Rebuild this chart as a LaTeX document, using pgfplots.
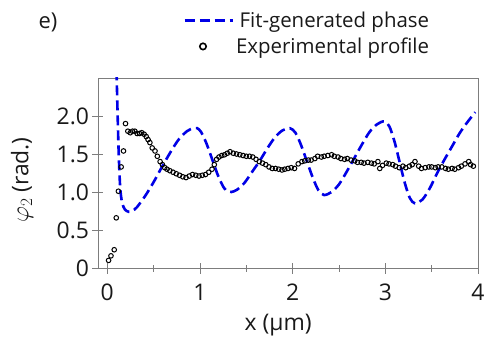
\documentclass[border=0pt]{standalone}
\usepackage{pgfplots}
\pgfplotsset{compat=1.18}
\usepackage{fontspec}
\setmainfont{Open Sans}
\definecolor{fitblue}{RGB}{0,0,230}
\definecolor{axgray}{RGB}{125,125,125}
\pgfplotsset{
  dashleg/.style={legend image code/.code={\draw[##1] (0cm,0cm) -- (1.7cm,0cm);}},
  markleg/.style={legend image code/.code={\draw[mark repeat=2,mark phase=2,##1, mark size=3.2bp, mark options={line width=1.6bp}] plot coordinates {(0cm,0cm) (0.65cm,0cm) (1.7cm,0cm)};}},
}
\begin{document}
\begin{tikzpicture}
\begin{axis}[
  scale only axis, width=380bp, height=190bp,
  xmin=-0.1, xmax=4, ymin=0, ymax=2.5,
  xtick={0,1,2,3,4}, minor xtick={0.5,1.5,2.5,3.5},
  ytick={0,0.5,1,1.5,2}, yticklabels={0,0.5,1.0,1.5,2.0},
  xtick pos=bottom, ytick pos=left,
  tick align=center,
  major tick length=11bp, minor tick length=7bp,
  every tick/.style={axgray, line width=0.8bp},
  axis line style={axgray, line width=0.8bp},
  /pgf/number format/assume math mode=true,
  tick label style={font=\fontsize{23}{26}\selectfont, text=black!90},
  xticklabel style={yshift=-7bp},
  xlabel={x (µm)}, ylabel={$\varphi_2$ (rad.)},
  label style={font=\fontsize{23}{26}\selectfont, text=black!90},
  xlabel style={at={(axis description cs:0.474,-0.3)}, anchor=center},
  ylabel style={at={(axis description cs:-0.2,0.463)}, anchor=center},
  legend style={at={(axis description cs:0.885,1.37)}, anchor=north east,
    draw=none, fill=none, font=\fontsize{20.5}{23}\selectfont, row sep=5bp,
    text=black!90},
  legend cell align=right,
]
\addplot[fitblue, line width=2.6bp, dash pattern=on 10bp off 5bp, smooth, dashleg]
coordinates {
(0.100,2.60) (0.112,2.0) (0.125,1.45) (0.14,1.05) (0.16,0.86) (0.19,0.77) (0.23,0.74) (0.27,0.75)
(0.32,0.80) (0.41,0.95) (0.50,1.13) (0.59,1.33) (0.68,1.52) (0.77,1.69) (0.86,1.80) (0.93,1.84) (0.97,1.84)
(1.012,1.79) (1.07,1.64) (1.135,1.42) (1.197,1.21) (1.258,1.056) (1.30,1.01) (1.34,1.0)
(1.40,1.03) (1.48,1.12) (1.56,1.26) (1.65,1.42) (1.73,1.58) (1.81,1.72) (1.89,1.81) (1.97,1.84)
(2.03,1.78) (2.09,1.62) (2.155,1.40) (2.22,1.18) (2.28,1.02) (2.34,0.96)
(2.42,1.00) (2.50,1.10) (2.58,1.26) (2.665,1.445) (2.75,1.63) (2.83,1.79) (2.91,1.89) (2.99,1.93)
(3.045,1.86) (3.10,1.66) (3.155,1.39) (3.21,1.12) (3.265,0.92) (3.32,0.85)
(3.40,0.90) (3.48,1.05) (3.56,1.25) (3.64,1.43) (3.72,1.60) (3.80,1.77) (3.88,1.91) (3.97,2.05)
};
\addlegendentry{Fit-generated phase}
\addplot[only marks, mark=o, mark size=2.3bp, black, mark options={line width=1bp}, markleg]
coordinates {
(0.014,0.10) (0.04,0.16) (0.075,0.24) (0.097,0.66) (0.12,1.01) (0.15,1.33) (0.175,1.54) (0.197,1.90)
(0.222,1.80) (0.248,1.78) (0.272,1.80) (0.298,1.80) (0.322,1.77) (0.348,1.77) (0.372,1.78) (0.398,1.76)
(0.42,1.73) (0.44,1.69) (0.46,1.65) (0.485,1.58) (0.515,1.54) (0.54,1.47) (0.57,1.40) (0.595,1.36)
(0.62,1.32) (0.645,1.30) (0.675,1.28) (0.71,1.26) (0.745,1.24) (0.78,1.22) (0.815,1.20) (0.85,1.19)
(0.885,1.21) (0.92,1.23) (0.955,1.22) (0.99,1.21) (1.025,1.22) (1.06,1.23) (1.095,1.26) (1.13,1.30)
(1.155,1.36) (1.18,1.43) (1.205,1.46) (1.235,1.48) (1.265,1.49) (1.295,1.51) (1.325,1.53) (1.36,1.51)
(1.395,1.50) (1.43,1.49) (1.465,1.48) (1.50,1.47) (1.535,1.47) (1.57,1.46) (1.605,1.43) (1.64,1.40)
(1.675,1.38) (1.71,1.36) (1.745,1.33) (1.78,1.31) (1.815,1.31) (1.85,1.30) (1.885,1.29) (1.915,1.30)
(1.95,1.31) (1.985,1.32) (2.02,1.31) (2.06,1.37) (2.10,1.40) (2.13,1.41) (2.17,1.42) (2.20,1.42)
(2.24,1.44) (2.27,1.47) (2.31,1.46) (2.34,1.47) (2.38,1.48) (2.42,1.49) (2.45,1.47) (2.49,1.46)
(2.52,1.44) (2.56,1.43) (2.59,1.44) (2.63,1.42) (2.67,1.41) (2.70,1.39) (2.74,1.39) (2.77,1.38)
(2.81,1.39) (2.85,1.38) (2.88,1.37) (2.92,1.40) (2.94,1.31) (2.97,1.35) (3.01,1.38) (3.04,1.37)
(3.08,1.36) (3.11,1.34) (3.15,1.32) (3.19,1.34) (3.22,1.32) (3.26,1.34) (3.29,1.36) (3.32,1.40)
(3.36,1.34) (3.39,1.31) (3.43,1.32) (3.47,1.33) (3.50,1.33) (3.54,1.32) (3.57,1.33) (3.61,1.33)
(3.65,1.31) (3.68,1.30) (3.72,1.31) (3.75,1.30) (3.79,1.32) (3.82,1.34) (3.86,1.37) (3.90,1.40)
(3.92,1.36) (3.95,1.34)
};
\addlegendentry{Experimental profile}
\end{axis}
\node[font=\fontsize{22}{26}\selectfont, text=black!90] at (-50bp,246bp) {e)};
\pgfresetboundingbox
\path[use as bounding box] (-98bp,-71bp) rectangle (403bp,268bp);
\end{tikzpicture}
\end{document}
